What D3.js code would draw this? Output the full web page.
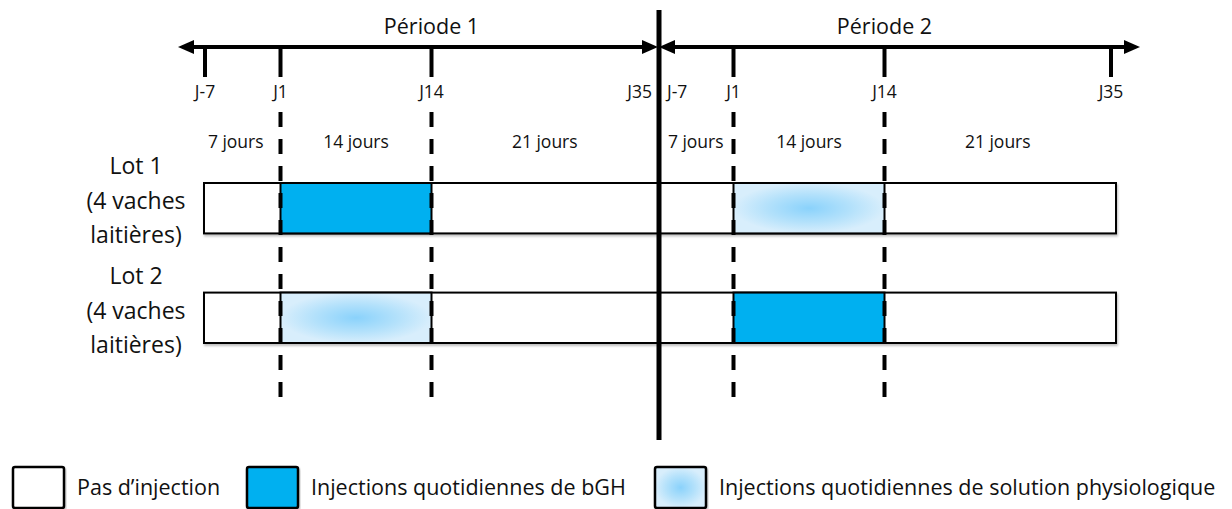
<!DOCTYPE html>
<html>
<head>
<meta charset="utf-8">
<script src="https://cdn.jsdelivr.net/npm/d3@7"></script>
<style>
  body { margin: 0; background: #fff; }
  svg { display: block; font-family: "Open Sans", Lato, sans-serif; }
</style>
</head>
<body>
<svg id="mainSvg"></svg>
<script>
// data
const periods = ["Période 1", "Période 2"];
const periodLength = 42;            // days per period on the axis (7 + 14 + 21)
const tickLabels = ["J-7", "J1", "J14", "J35"];
const tickDays = [0, 7, 21, 42];    // offsets inside a period
const spanLabels = ["7 jours", "14 jours", "21 jours"];
const lots = ["Lot 1", "Lot 2"];
const lotSub = ["(4 vaches", "laitières)"];
// treatment applied between J1 and J14 of each period
const lotTreatments = [["bGH", "physio"], ["physio", "bGH"]];
const legendKeys = ["none", "bGH", "physio"];
const legendLabels = ["Pas d’injection", "Injections quotidiennes de bGH", "Injections quotidiennes de solution physiologique"];

const [w, h] = [1232, 509];
const svg = d3.select("#mainSvg").attr("width", w).attr("height", h);

const x = d3.scaleLinear().domain([0, periodLength * periods.length]).range([205, 1111]);
const axisY = 47;
const lotY = d3.scaleBand().domain(lots).range([183, 343]).paddingInner(0.54);

const defs = svg.append("defs");
const grad = defs.append("radialGradient").attr("id", "physio");
grad.append("stop").attr("offset", "0%").attr("stop-color", "#8ad2fb");
grad.append("stop").attr("offset", "55%").attr("stop-color", "#b3e1fb");
grad.append("stop").attr("offset", "100%").attr("stop-color", "#d8eefc");
const shadow = defs.append("filter").attr("id", "shadow").attr("x", "-5%").attr("y", "-20%").attr("width", "110%").attr("height", "150%");
shadow.append("feDropShadow").attr("dx", 1).attr("dy", 2).attr("stdDeviation", 1.2).attr("flood-color", "#000").attr("flood-opacity", 0.25);

const fillOf = k => k === "bGH" ? "#00b0f0" : (k === "physio" ? "url(#physio)" : "#fff");

// lot bars
const lotG = svg.append("g").selectAll("g").data(lots).join("g");
lotG.append("rect")
  .attr("x", x(0) - 1).attr("y", d => lotY(d))
  .attr("width", x(periodLength * 2) - x(0) + 6).attr("height", lotY.bandwidth())
  .attr("fill", "#fff").attr("stroke", "#000").attr("stroke-width", 2)
  .attr("filter", "url(#shadow)");
lotG.selectAll("rect.treat").data((d, i) => lotTreatments[i].map((t, p) => ({t, p, lot: d})))
  .join("rect").attr("class", "treat")
  .attr("x", d => x(d.p * periodLength + tickDays[1]))
  .attr("y", d => lotY(d.lot))
  .attr("width", d => x(tickDays[2]) - x(tickDays[1]))
  .attr("height", lotY.bandwidth())
  .attr("fill", d => fillOf(d.t)).attr("stroke", "#000").attr("stroke-width", 2);

// lot labels
const lab = lotG.append("text").attr("text-anchor", "middle").attr("font-size", 23).attr("fill", "#111");
lab.append("tspan").attr("x", 136).attr("y", d => lotY(d) + lotY.bandwidth() / 2 - 34).text(d => d);
lotSub.forEach((s, i) => {
  lab.append("tspan").attr("x", 136).attr("y", d => lotY(d) + lotY.bandwidth() / 2 + 1 + i * 34).text(s);
});

// dashed lines at J1 and J14
const dashDays = [];
periods.forEach((p, i) => [tickDays[1], tickDays[2]].forEach(d => dashDays.push(i * periodLength + d)));
svg.append("g").selectAll("line").data(dashDays).join("line")
  .attr("x1", d => x(d)).attr("x2", d => x(d))
  .attr("y1", 112).attr("y2", 397)
  .attr("stroke", "#000").attr("stroke-width", 4).attr("stroke-dasharray", "15 12");

// period axes with arrows
const arrow = (g, tipX, dir) => {
  g.append("path")
    .attr("d", `M${tipX},${axisY} l${dir * 16},-7 l0,14 Z`)
    .attr("fill", "#000");
};
periods.forEach((p, i) => {
  const g = svg.append("g");
  const x0 = i === 0 ? x(0) - 27 : x(periodLength) + 1;
  const x1 = i === 0 ? x(periodLength) : x(periodLength * 2) + 29;
  g.append("line").attr("x1", x0 + 10).attr("x2", x1 - 10).attr("y1", axisY).attr("y2", axisY)
    .attr("stroke", "#000").attr("stroke-width", 4);
  arrow(g, x0, 1);
  arrow(g, x1, -1);
  g.append("text").attr("x", x(i * periodLength + 21)).attr("y", 34)
    .attr("text-anchor", "middle").attr("font-size", 21.5).attr("fill", "#111").text(p);

  // ticks (the one on the separator is hidden by it)
  tickDays.forEach((d, k) => {
    const day = i * periodLength + d;
    const onSep = day === periodLength;
    if (!onSep) {
      g.append("line").attr("x1", x(day)).attr("x2", x(day)).attr("y1", axisY).attr("y2", axisY + 30)
        .attr("stroke", "#000").attr("stroke-width", 4);
    }
    g.append("text")
      .attr("x", onSep ? x(day) + (i === 0 ? -6 : 9) : x(day))
      .attr("y", 98)
      .attr("text-anchor", onSep ? (i === 0 ? "end" : "start") : "middle")
      .attr("font-size", 17.5).attr("fill", "#111").text(tickLabels[k]);
  });

  // span labels
  spanLabels.forEach((s, k) => {
    const mid = i * periodLength + (tickDays[k] + tickDays[k + 1]) / 2;
    g.append("text").attr("x", x(mid) - (i === 0 && k === 0 ? 7 : 0)).attr("y", 148)
      .attr("text-anchor", "middle").attr("font-size", 17.5).attr("fill", "#111").text(s);
  });
});

// separator
svg.append("line").attr("x1", x(periodLength) + 1).attr("x2", x(periodLength) + 1)
  .attr("y1", 10).attr("y2", 440).attr("stroke", "#000").attr("stroke-width", 5);

// legend
const legendX = [13, 247, 655];
const leg = svg.append("g").selectAll("g").data(legendKeys).join("g")
  .attr("transform", (d, i) => `translate(${legendX[i]},467)`);
leg.append("rect").attr("width", 51).attr("height", 41).attr("rx", 2)
  .attr("fill", d => fillOf(d)).attr("stroke", "#000").attr("stroke-width", 2.5)
  .attr("filter", "url(#shadow)");
leg.append("text").attr("x", 64).attr("y", 28).attr("font-size", 21.5).attr("fill", "#111")
  .text((d, i) => legendLabels[i]);
</script>
</body>
</html>
